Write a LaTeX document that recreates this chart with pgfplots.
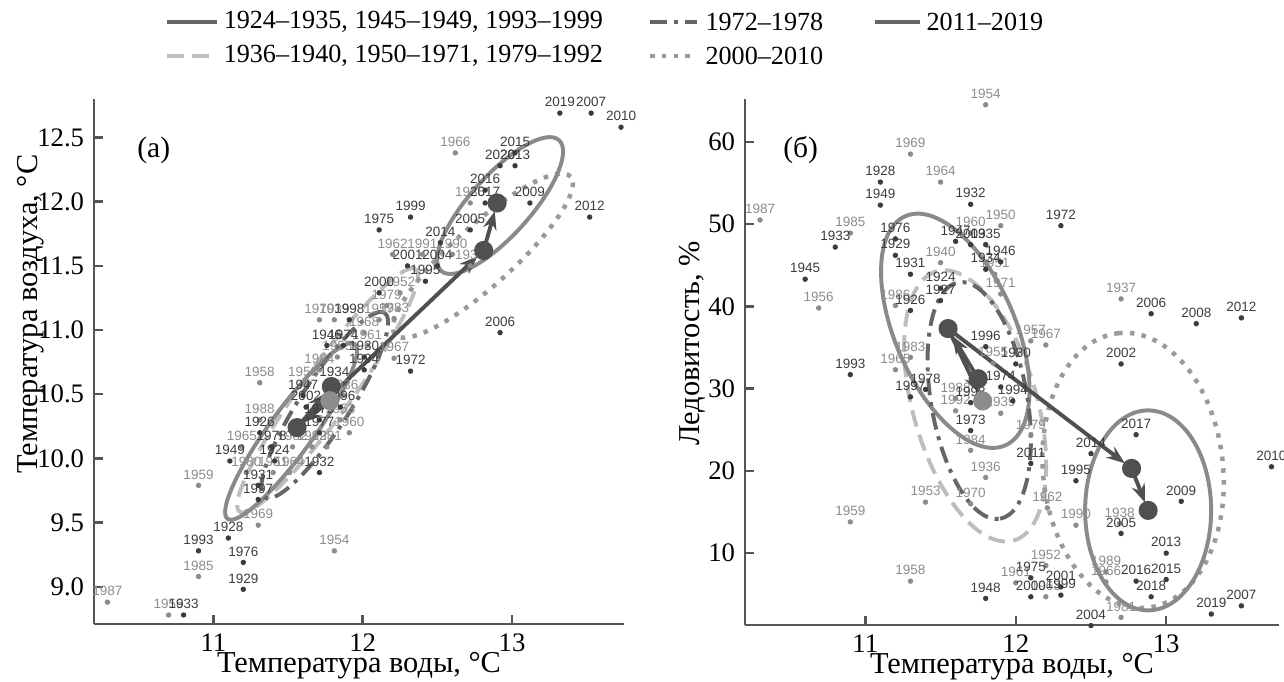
\documentclass[border=0pt]{standalone}
\usepackage{fontspec}
\setmainfont{Liberation Serif}
\newfontfamily\yearfont{Liberation Sans}
\usepackage{pgfplots}
\pgfplotsset{compat=1.18}
\usetikzlibrary{arrows.meta}

\definecolor{ptdark}{HTML}{3C3C3C}
\definecolor{ptgray}{HTML}{8C8C8C}
\definecolor{axisgray}{HTML}{555555}
\definecolor{gone}{HTML}{8A8A8A}
\definecolor{gtwo}{HTML}{BDBDBD}
\definecolor{gthree}{HTML}{666666}
\definecolor{gfour}{HTML}{9A9A9A}
\definecolor{meanc}{HTML}{505050}
\definecolor{meanl}{HTML}{8C8C8C}

\tikzset{
  eA/.style={line width=1.4pt, color=gone},
  eB/.style={line width=1.4pt, color=gtwo, dash pattern=on 6pt off 3pt},
  eC/.style={line width=1.4pt, color=gthree, dash pattern=on 6pt off 2.5pt on 1.4pt off 2.5pt},
  eD/.style={line width=1.6pt, color=gfour, dash pattern=on 1.6pt off 2.6pt},
  eE/.style={line width=1.4pt, color=gone},
  arr/.style={meanc, line width=1.4pt, -{Stealth[length=2.3mm, width=1.7mm]}},
}
% ellipse: style, cx, cy (axis units), angle, semi-axes (cm)
\newcommand{\ellip}[6]{\draw[#1, rotate around={#4:(axis cs:#2,#3)}] (axis cs:#2,#3) ellipse [x radius=#5cm, y radius=#6cm];}

\pgfplotsset{
  panel/.style={
    scale only axis, clip=false,
    axis x line=bottom, axis y line=left,
    axis line style={-, axisgray, line width=0.9pt},
    tick style={axisgray, line width=0.9pt},
    tick align=inside, major tick length=0.11cm,
    xmin=10.2, xmax=13.75, xtick={11,12,13},
    tick label style={font=\fontsize{9.5}{11}\selectfont},
    label style={font=\fontsize{10.8}{12}\selectfont},
    /pgf/number format/assume math mode=true,
    xlabel={Температура воды, °C}, xlabel shift=-0.24cm,
  },
  yr/.style={only marks, mark=*, mark size=0.75pt, color=#1,
    nodes near coords, point meta=explicit symbolic,
    every node near coord/.append style={font=\yearfont\fontsize{4.8}{5}\selectfont,
      text=#1, anchor=south, inner sep=0pt, yshift=2pt}},
}

\begin{document}
\begin{tikzpicture}
\path[use as bounding box] (0,0) rectangle (16.05,-8.525);

% ---------------- (a) ----------------
\begin{axis}[panel, at={(1.175cm,-7.8cm)}, anchor=south west,
  width=6.625cm, height=6.5625cm,
  ymin=8.71, ymax=12.80, ytick={9,9.5,...,12.5},
  yticklabel style={/pgf/number format/.cd, fixed, fixed zerofill, precision=1},
  ylabel={Температура воздуха, °C}, ylabel shift=-0.33cm,
  ylabel style={at={(ticklabel cs:0.59)}}]
\addplot[yr=ptgray] table[meta=lab] {
x y lab
12.62 12.38 1966
12.72 11.99 1938
12.20 11.59 1962
12.40 11.59 1991
12.60 11.59 1990
12.72 11.50 1937
12.21 10.78 1967
12.25 11.29 1952
12.16 11.19 1979
12.21 11.09 1983
11.71 11.08 1970
11.81 11.08 1939
12.01 10.98 1968
12.11 11.08 1957
12.03 10.88 1961
11.83 10.79 1955
11.71 10.69 1984
11.31 10.59 1958
11.60 10.59 1950
11.87 10.49 1936
11.85 10.30 1953
11.31 10.30 1988
11.91 10.20 1960
11.19 10.09 1965
11.53 10.09 1982
11.66 10.09 1992
11.76 10.09 1981
11.22 9.89 1980
11.40 9.89 1951
11.51 9.89 1964
10.90 9.79 1959
11.30 9.48 1969
11.81 9.28 1954
10.90 9.08 1985
10.29 8.88 1987
10.70 8.78 1956
};
\addplot[yr=ptdark] table[meta=lab] {
x y lab
13.32 12.69 2019
13.53 12.69 2007
13.73 12.58 2010
13.02 12.38 2015
12.92 12.28 2020
13.02 12.28 2013
12.82 12.09 2016
12.82 11.99 2017
13.12 11.99 2009
12.32 11.88 1999
13.52 11.88 2012
12.11 11.78 1975
12.72 11.78 2005
12.52 11.68 2014
12.30 11.50 2001
12.50 11.50 2004
12.42 11.38 1995
12.92 10.98 2006
12.32 10.68 1972
12.11 11.29 2000
11.91 11.08 1998
11.76 10.88 1946
11.87 10.88 1974
12.01 10.79 1930
12.01 10.69 1994
11.81 10.59 1934
11.60 10.49 1947
11.62 10.40 2002
11.85 10.40 1996
11.71 10.30 1973
11.31 10.20 1926
11.71 10.20 1977
11.39 10.09 1978
11.11 9.98 1949
11.41 9.98 1924
11.71 9.89 1932
11.30 9.79 1931
11.30 9.68 1997
11.10 9.38 1928
10.90 9.28 1993
11.20 9.19 1976
11.20 8.98 1929
10.80 8.78 1933
};
\ellip{eB}{11.765}{10.53}{54}{1.875}{0.31}
\ellip{eA}{11.52}{10.21}{54}{1.35}{0.275}
\ellip{eC}{11.745}{10.415}{57}{1.375}{0.31}
\ellip{eD}{12.805}{11.58}{42}{1.475}{0.375}
\ellip{eE}{12.92}{11.97}{48}{1.1}{0.375}
\addplot[arr, shorten >=3pt] coordinates {(11.56,10.24) (11.79,10.56)};
\addplot[arr, shorten >=3pt] coordinates {(11.78,10.45) (11.56,10.24)};
\addplot[arr, shorten >=3pt] coordinates {(11.56,10.24) (12.81,11.62)};
\addplot[arr, shorten >=3pt] coordinates {(12.81,11.62) (12.90,11.99)};
\addplot[only marks, mark=*, mark size=3.2pt, meanc] coordinates {(11.56,10.24) (11.79,10.56) (12.81,11.62) (12.90,11.99)};
\addplot[only marks, mark=*, mark size=3.2pt, meanl] coordinates {(11.78,10.45)};
\node[font=\fontsize{10.5}{12}\selectfont] at (axis cs:10.6,12.40) {(a)};
\end{axis}

% ---------------- (б) ----------------
\begin{axis}[panel, at={(9.3125cm,-7.8125cm)}, anchor=south west,
  width=6.675cm, height=6.575cm,
  ymin=1.27, ymax=65.2, ytick={10,20,...,60},
  ylabel={Ледовитость, \%}, ylabel shift=-0.2cm,
  ylabel style={at={(ticklabel cs:0.535)}}]
\addplot[yr=ptgray] table[meta=lab] {
x y lab
11.80 64.5 1954
11.30 58.5 1969
11.50 55.1 1964
10.30 50.5 1987
10.90 48.9 1985
11.70 48.9 1960
11.50 45.3 1940
11.90 49.8 1950
11.86 43.9 1951
11.90 41.5 1971
12.70 40.9 1937
10.69 39.8 1956
11.20 40.1 1986
11.20 32.3 1965
11.30 33.8 1983
11.70 22.5 1984
11.60 28.8 1988
11.60 27.3 1992
11.80 19.2 1936
11.40 16.2 1953
11.70 16.0 1970
10.90 13.8 1959
11.30 6.6 1958
12.10 35.8 1957
12.20 35.3 1967
11.85 33.1 1955
11.90 27.0 1939
12.10 24.3 1979
12.21 15.5 1962
12.40 13.4 1990
12.69 13.6 1938
12.20 8.5 1952
12.00 6.4 1961
12.20 4.7 1963
12.60 7.7 1989
12.60 6.5 1966
12.70 2.2 1981
};
\addplot[yr=ptdark] table[meta=lab] {
x y lab
11.10 55.1 1928
11.10 52.3 1949
11.70 52.4 1932
10.80 47.2 1933
11.20 48.2 1976
11.20 46.2 1929
11.60 47.9 1947
11.70 47.5 2003
11.80 47.5 1935
11.30 43.9 1931
10.60 43.3 1945
12.30 49.8 1972
11.90 45.4 1946
11.80 44.5 1934
12.90 39.1 2006
13.20 37.9 2008
13.50 38.6 2012
11.50 42.2 1924
11.50 40.7 1927
11.30 39.5 1926
10.90 31.7 1993
11.40 29.9 1978
11.30 29.0 1997
11.80 35.1 1996
11.70 24.9 1973
11.70 28.3 1998
12.00 33.0 1930
12.70 33.0 2002
11.90 30.2 1974
11.98 28.5 1994
12.80 24.4 2017
12.50 22.1 2014
12.10 20.9 2011
12.40 18.8 1995
13.70 20.5 2010
13.10 16.3 2009
12.70 12.4 2005
13.00 10.0 2013
12.10 7.0 1975
12.30 5.9 2001
12.10 4.7 2000
12.30 4.9 1999
12.80 6.6 2016
13.00 6.8 2015
12.90 4.7 2018
12.50 1.2 2004
13.30 2.6 2019
13.50 3.6 2007
11.80 4.5 1948
};
\ellip{eB}{11.73}{27.9}{-74}{1.75}{0.775}
\ellip{eA}{11.598}{37.03}{-66.5}{1.5625}{0.75}
\ellip{eC}{11.757}{28.55}{-80}{1.5}{0.6}
\ellip{eD}{12.78}{20.06}{96}{1.725}{1.125}
\ellip{eE}{12.88}{15.2}{90}{1.25}{0.7875}
\addplot[arr, shorten >=3pt] coordinates {(11.55,37.3) (11.78,28.5)};
\addplot[arr, shorten >=3pt] coordinates {(11.75,31.2) (11.55,37.3)};
\addplot[arr, shorten >=3pt] coordinates {(11.55,37.3) (12.77,20.3)};
\addplot[arr, shorten >=3pt] coordinates {(12.77,20.3) (12.88,15.2)};
\addplot[only marks, mark=*, mark size=3.2pt, meanc] coordinates {(11.55,37.3) (11.75,31.2) (12.77,20.3) (12.88,15.2)};
\addplot[only marks, mark=*, mark size=3.2pt, meanl] coordinates {(11.78,28.5)};
\node[font=\fontsize{10.5}{12}\selectfont] at (axis cs:10.57,59.0) {(б)};
\end{axis}

% ---------------- legend ----------------
\begin{scope}[every node/.style={font=\fontsize{9.3}{11}\selectfont, anchor=west, inner sep=0pt}]
\draw[line width=1.4pt, color=gthree] (2.0875,-0.275) -- (2.7125,-0.275);
\node at (2.79,-0.275) {1924–1935, 1945–1949, 1993–1999};
\draw[eC] (8.125,-0.275) -- (8.7125,-0.275);
\node at (8.8125,-0.275) {1972–1978};
\draw[line width=1.4pt, color=gthree] (10.9375,-0.275) -- (11.5,-0.275);
\node at (11.575,-0.275) {2011–2019};
\draw[eB] (2.0875,-0.7) -- (2.7125,-0.7);
\node at (2.79,-0.7) {1936–1940, 1950–1971, 1979–1992};
\draw[eD] (8.125,-0.7) -- (8.7125,-0.7);
\node at (8.8125,-0.7) {2000–2010};
\end{scope}
\end{tikzpicture}
\end{document}
